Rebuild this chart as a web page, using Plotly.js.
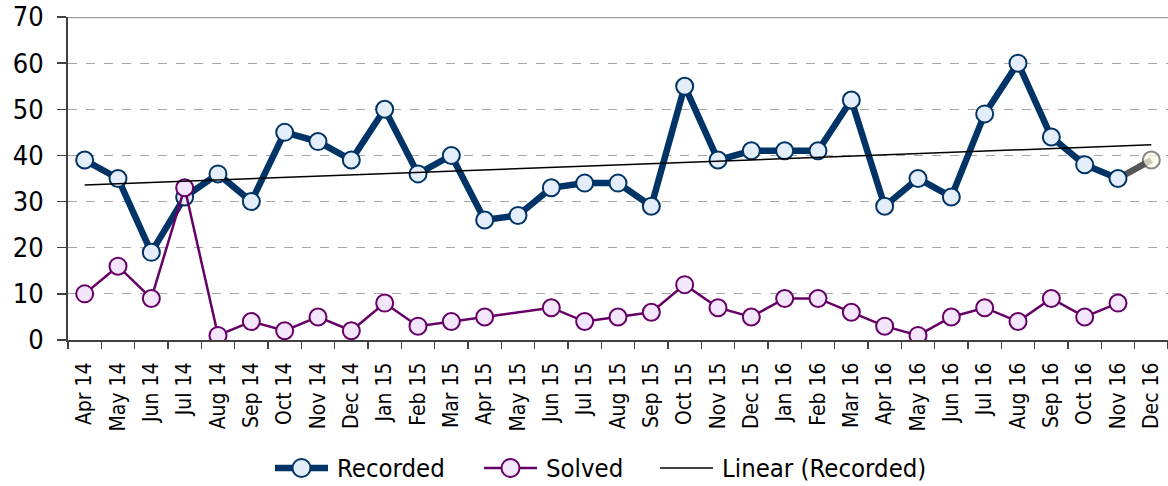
<!DOCTYPE html>
<html>
<head>
<meta charset="utf-8">
<script src="https://cdn.plot.ly/plotly-3.0.1.min.js"></script>
<style>
html,body{margin:0;padding:0;background:#fff;}
#chart{width:1168px;height:486px;}
</style>
</head>
<body>
<div id="chart"></div>
<script>
const months = ["Apr 14","May 14","Jun 14","Jul 14","Aug 14","Sep 14","Oct 14","Nov 14","Dec 14",
  "Jan 15","Feb 15","Mar 15","Apr 15","May 15","Jun 15","Jul 15","Aug 15","Sep 15","Oct 15","Nov 15","Dec 15",
  "Jan 16","Feb 16","Mar 16","Apr 16","May 16","Jun 16","Jul 16","Aug 16","Sep 16","Oct 16","Nov 16","Dec 16"];
const recorded = [39,35,19,31,36,30,45,43,39,50,36,40,26,27,33,34,34,29,55,39,41,41,41,52,29,35,31,49,60,44,38,35,39];
const solved = [10,16,9,33,1,4,2,5,2,8,3,4,5,null,7,4,5,6,12,7,5,9,9,6,3,1,5,7,4,9,5,8,null];
const trendX = ["Apr 14","Dec 16"];
const trendY = [33.6, 42.3];
const yTicks = [0,10,20,30,40,50,60,70];
const seriesNames = ["Recorded", "Solved", "Linear (Recorded)"];

const FONT = "DejaVu Sans Condensed, DejaVu Sans, sans-serif";
const n = recorded.length;

const NAVY = "#003366", NAVY_FILL = "#E4EEFB";
const PURPLE = "#660066", PURPLE_FILL = "#F3E5FB";

const traces = [
  {
    x: months.slice(n-2), y: recorded.slice(n-2),
    mode: "lines+markers", hoverinfo: "skip",
    line: {color: "#555555", width: 6.5},
    marker: {size: [0,17], color: "#FFFDE8", line: {color: "#555555", width: 2}}
  },
  {
    x: months.slice(0, n-1), y: recorded.slice(0, n-1), name: seriesNames[0],
    mode: "lines+markers",
    line: {color: NAVY, width: 6.5},
    marker: {size: 17, color: NAVY_FILL, line: {color: NAVY, width: 2}}
  },
  {
    x: months, y: solved, name: seriesNames[1],
    mode: "lines+markers", connectgaps: true,
    line: {color: PURPLE, width: 2.5},
    marker: {size: 17, color: PURPLE_FILL, line: {color: PURPLE, width: 2}}
  },
  {
    x: trendX, y: trendY, name: seriesNames[2],
    mode: "lines",
    line: {color: "#000000", width: 1.5}
  }
];

// custom legend (pixel layout converted to paper coordinates)
const M = {l: 68, t: 17, w: 1100, h: 323};
const px = p => (p - M.l) / M.w;
const py = p => (M.t + M.h - p) / M.h;
const LEG_Y = 468;
const legendItems = [
  {name: seriesNames[0], x0: 275, color: NAVY, width: 6.5, fill: NAVY_FILL, marker: true},
  {name: seriesNames[1], x0: 484, color: PURPLE, width: 2.5, fill: PURPLE_FILL, marker: true},
  {name: seriesNames[2], x0: 660, color: "#000000", width: 1.5, marker: false}
];
const SYM_LEN = 53;
const shapes = [
  {type: "line", xref: "paper", yref: "y", x0: 0, x1: 1, y0: 70, y1: 70,
   line: {color: "#a0a0a0", width: 2.5}}
];
const annotations = [];
legendItems.forEach(it => {
  shapes.push({type: "line", xref: "paper", yref: "paper",
    x0: px(it.x0), x1: px(it.x0 + SYM_LEN), y0: py(LEG_Y), y1: py(LEG_Y),
    line: {color: it.color, width: it.width}});
  if (it.marker) {
    shapes.push({type: "circle", xref: "paper", yref: "paper",
      xsizemode: "pixel", ysizemode: "pixel",
      xanchor: px(it.x0 + SYM_LEN / 2), yanchor: py(LEG_Y),
      x0: -9, x1: 9, y0: -9, y1: 9,
      fillcolor: it.fill, line: {color: it.color, width: 2}});
  }
  annotations.push({xref: "paper", yref: "paper", x: px(it.x0 + SYM_LEN + 7), y: py(LEG_Y),
    xanchor: "left", yanchor: "middle", showarrow: false, text: it.name,
    font: {family: FONT, size: 25.5, color: "#000"}});
});

const layout = {
  width: 1168, height: 486,
  margin: {l: 68, r: 0, t: 17, b: 146, autoexpand: false},
  paper_bgcolor: "#ffffff", plot_bgcolor: "#ffffff",
  font: {family: FONT, color: "#000000"},
  showlegend: false,
  xaxis: {
    type: "category", categoryorder: "array", categoryarray: months,
    range: [-0.5, 32.5],
    tickangle: -90, tickfont: {family: FONT, size: 21},
    ticks: "outside", ticklen: 7, tickwidth: 1.5, tickcolor: "#404040",
    tickson: "boundaries",
    showline: true, linecolor: "#404040", linewidth: 2,
    showgrid: false, zeroline: false,
    ticklabelstandoff: 12
  },
  yaxis: {
    range: [0, 70], tickvals: yTicks, ticktext: yTicks.map(String),
    tickfont: {family: FONT, size: 27},
    ticks: "outside", ticklen: 9, tickwidth: 1.5, tickcolor: "#404040",
    showline: true, linecolor: "#404040", linewidth: 2,
    showgrid: true, gridcolor: "#a6a6a6", griddash: "dash", gridwidth: 1.2,
    zeroline: false, ticklabelstandoff: 8
  },
  shapes: shapes,
  annotations: annotations
};

Plotly.newPlot("chart", traces, layout, {displayModeBar: false, staticPlot: true});
</script>
</body>
</html>
